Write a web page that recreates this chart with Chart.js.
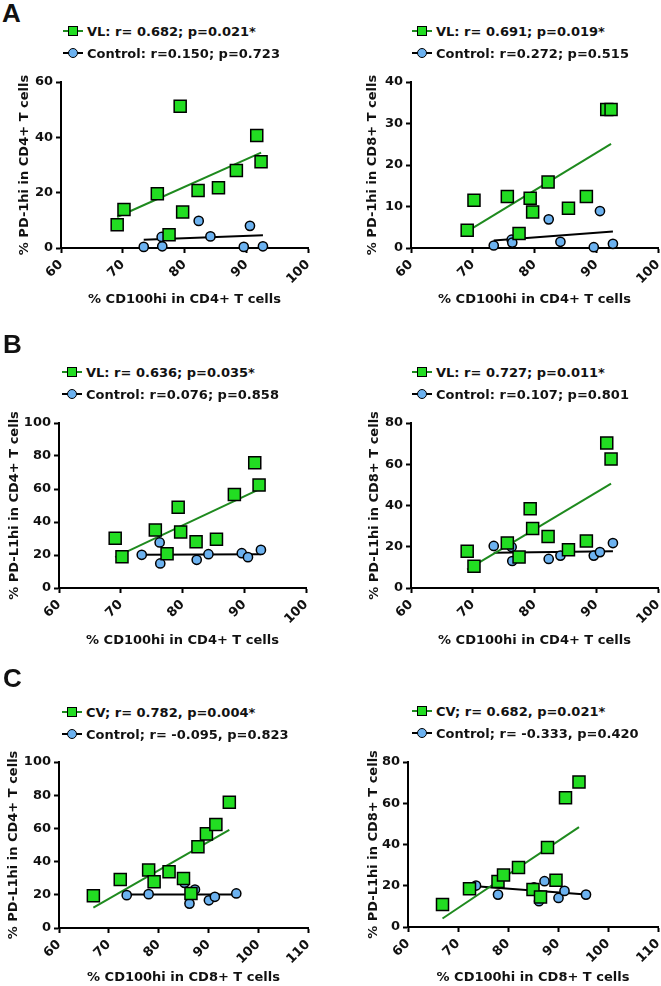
<!DOCTYPE html>
<html>
<head>
<meta charset="utf-8">
<script src="https://cdn.jsdelivr.net/npm/chart.js@4.4.0/dist/chart.umd.min.js"></script>
<style>
  body { margin: 0; background: #fff; overflow: hidden; }
  #page { position: relative; width: 661px; height: 986px; overflow: hidden; color: #111; }
  #page canvas { position: absolute; }
  .letter { position: absolute; font: bold 26px "Liberation Sans", Arial, sans-serif; line-height: 26px; }
  .row { position: absolute; height: 22px; display: flex; align-items: center;
         font: bold 13px "DejaVu Sans", sans-serif; white-space: nowrap; }
  .icon { position: relative; width: 20px; height: 14px; margin-right: 4px; flex: none; }
  .icon .ln { position: absolute; left: 0; top: 6px; width: 20px; height: 2px; }
  .icon .mk { position: absolute; left: 5px; top: 2px; width: 10px; height: 10px;
              box-sizing: border-box; border: 1.5px solid #000; }
</style>
</head>
<body>
<div id="page"></div>
<script>
// x values: % CD100hi in CD4+ T cells (panels A, B)
var cd100CD4_VL = [69.1, 70.2, 75.6, 77.5, 79.3, 79.7, 82.2, 85.5, 88.4, 91.7, 92.4];
var cd100CD4_Ctrl = [73.4, 76.3, 76.4, 82.3, 84.2, 89.6, 90.6, 92.7];
// x values: % CD100hi in CD8+ T cells (panel C)
var cd100CD8_CV = [66.9, 72.3, 78.0, 79.1, 82.1, 85.0, 86.5, 87.9, 89.6, 91.5, 94.2];
var cd100CD8_Ctrl = [73.6, 78.0, 85.2, 86.2, 87.3, 90.1, 91.3, 95.6];

// y values
var pd1CD4_VL = [8.4, 13.9, 19.6, 4.8, 51.2, 13.0, 20.8, 21.8, 28.0, 40.7, 31.2];
var pd1CD4_Ctrl = [0.4, 4.0, 0.6, 9.8, 4.2, 0.4, 8.0, 0.6];
var pd1CD8_VL = [4.3, 11.5, 12.4, 3.5, 12.0, 8.7, 15.9, 9.6, 12.4, 33.4, 33.4];
var pd1CD8_Ctrl = [0.6, 2.0, 1.3, 6.9, 1.5, 0.2, 8.9, 1.0];
var pdl1CD4_VL = [30.2, 18.9, 35.2, 20.7, 48.9, 34.0, 28.0, 29.6, 56.7, 75.9, 62.4];
var pdl1CD4_Ctrl = [20.1, 27.6, 14.9, 17.1, 20.5, 21.1, 18.7, 23.1];
var pdl1CD8_VL = [17.8, 10.5, 21.8, 15.0, 38.4, 28.8, 25.0, 18.6, 22.8, 70.3, 62.5];
var pdl1CD8_Ctrl = [20.4, 19.9, 13.1, 14.1, 15.7, 15.7, 17.4, 21.8];
var pdl1CD4_CV = [19.4, 29.2, 34.9, 27.8, 33.9, 29.8, 20.8, 49.0, 56.7, 62.3, 75.8];
var pdl1CD4_CtrlC = [19.8, 20.4, 27.2, 14.7, 23.2, 16.7, 18.8, 20.8];
var pdl1CD8_CV = [10.9, 18.5, 22.1, 25.2, 28.9, 18.2, 14.6, 38.6, 22.7, 62.7, 70.3];
var pdl1CD8_CtrlC = [20.1, 15.7, 19.2, 12.5, 22.2, 14.1, 17.5, 15.7];

// regression line ends (y at lowest x, y at highest x)
var fitA1 = [[11.2, 34.5], [3.0, 4.6]];
var fitA2 = [[4.0, 25.1], [1.8, 4.0]];
var fitB1 = [[18.7, 59.8], [20.1, 20.5]];
var fitB2 = [[8.9, 50.6], [17.1, 17.8]];
var fitC1 = [[12.3, 59.1], [20.2, 20.2]];
var fitC2 = [[4.1, 48.4], [19.8, 15.7]];

// legend texts
var legA1 = ['VL: r= 0.682; p=0.021*', 'Control: r=0.150; p=0.723'];
var legA2 = ['VL: r= 0.691; p=0.019*', 'Control: r=0.272; p=0.515'];
var legB1 = ['VL: r= 0.636; p=0.035*', 'Control: r=0.076; p=0.858'];
var legB2 = ['VL: r= 0.727; p=0.011*', 'Control: r=0.107; p=0.801'];
var legC1 = ['CV; r= 0.782, p=0.004*', 'Control; r= -0.095, p=0.823'];
var legC2 = ['CV; r= 0.682, p=0.021*', 'Control; r= -0.333, p=0.420'];

var GREEN = '#22dd22';
var BLUE = '#6cb2f0';
var FIT_GREEN = '#1e8a1e';
var TEXT = '#111';

var page = document.getElementById('page');

function pts(xs, ys) {
  return xs.map(function (x, i) { return { x: x, y: ys[i] }; });
}

function fitPts(xs, ends) {
  return [{ x: Math.min.apply(null, xs), y: ends[0] }, { x: Math.max.apply(null, xs), y: ends[1] }];
}

function addLegend(p) {
  var marks = [{ fill: GREEN, line: FIT_GREEN, round: false }, { fill: BLUE, line: '#000', round: true }];
  p.legend.forEach(function (txt, i) {
    var row = document.createElement('div');
    row.className = 'row';
    row.style.left = p.legX + 'px';
    row.style.top = (p.legY[i] - 11) + 'px';
    var icon = document.createElement('span');
    icon.className = 'icon';
    var ln = document.createElement('span');
    ln.className = 'ln';
    ln.style.background = marks[i].line;
    var mk = document.createElement('span');
    mk.className = 'mk';
    mk.style.background = marks[i].fill;
    if (marks[i].round) mk.style.borderRadius = '50%';
    icon.appendChild(ln);
    icon.appendChild(mk);
    row.appendChild(icon);
    row.appendChild(document.createTextNode(txt));
    page.appendChild(row);
  });
}

function drawPanel(p) {
  var top = p.plot.t - 25;
  var bottom = Math.min(p.xTitleY + 10, 986);
  var W = p.w, H = bottom - top;
  var lh = 13 * 1.2;
  // paddings and axis sizes so the plot box lands where it is in the figure
  var pl = p.yTitleX - p.x - lh / 2;
  var yw = p.plot.l - p.x - pl;
  var pr = p.x + W - p.plot.r;
  var pt = p.plot.t - top;
  var pb = Math.max(bottom - (p.xTitleY + lh / 2), 0);
  var xh = (H - pb) - (p.plot.b - top);

  var canvas = document.createElement('canvas');
  canvas.width = W;
  canvas.height = H;
  canvas.style.left = p.x + 'px';
  canvas.style.top = top + 'px';
  page.appendChild(canvas);

  var tickFont = { family: 'DejaVu Sans', size: 13, weight: 'bold' };
  var titleFont = { family: 'DejaVu Sans', size: 13, weight: 'bold', lineHeight: 1.2 };

  new Chart(canvas.getContext('2d'), {
    type: 'scatter',
    data: {
      datasets: [{
        label: p.legend[0],
        data: pts(p.x1, p.y1),
        pointStyle: 'rect',
        pointRadius: 8.5,
        backgroundColor: GREEN,
        borderColor: '#000',
        borderWidth: 1.5,
        clip: false
      }, {
        label: p.legend[1],
        data: pts(p.x2, p.y2),
        pointStyle: 'circle',
        pointRadius: 4.6,
        backgroundColor: BLUE,
        borderColor: '#000',
        borderWidth: 1.5,
        clip: false
      }, {
        label: 'fit1',
        data: fitPts(p.x1, p.fit[0]),
        showLine: true,
        pointRadius: 0,
        borderColor: FIT_GREEN,
        borderWidth: 2,
        clip: false
      }, {
        label: 'fit2',
        data: fitPts(p.x2, p.fit[1]),
        showLine: true,
        pointRadius: 0,
        borderColor: '#000',
        borderWidth: 2,
        clip: false
      }]
    },
    options: {
      responsive: false,
      animation: false,
      layout: { padding: { left: pl, right: pr, top: pt, bottom: pb } },
      plugins: { legend: { display: false }, tooltip: { enabled: false } },
      scales: {
        x: {
          type: 'linear',
          min: p.xRange[0],
          max: p.xRange[1],
          ticks: { stepSize: 10, minRotation: 45, maxRotation: 45, autoSkip: false, font: tickFont, color: TEXT, padding: 4 },
          grid: { drawOnChartArea: false, tickLength: 5, tickWidth: 2, tickColor: '#000' },
          border: { color: '#000', width: 2 },
          title: { display: true, text: p.xTitle, font: titleFont, color: TEXT, padding: 0 },
          afterFit: function (s) { s.height = xh; }
        },
        y: {
          min: 0,
          max: p.yMax,
          ticks: { stepSize: p.yStep, font: tickFont, color: TEXT, padding: 3 },
          grid: { drawOnChartArea: false, tickLength: 5, tickWidth: 2, tickColor: '#000' },
          border: { color: '#000', width: 2 },
          title: { display: true, text: p.yTitle, font: titleFont, color: TEXT, padding: 0 },
          afterFit: function (s) { s.width = yw; }
        }
      }
    }
  });

  addLegend(p);
}

var xTitleCD4 = '% CD100hi in CD4+ T cells';
var xTitleCD8 = '% CD100hi in CD8+ T cells';

// right-column canvases run past the page edge (clipped) so label overhang does not shrink the plot
var panels = [
  { x: 0, w: 330, plot: { l: 61, r: 308, t: 82, b: 248 }, yTitleX: 25, xTitleY: 300, legX: 63, legY: [31, 53],
    x1: cd100CD4_VL, y1: pd1CD4_VL, x2: cd100CD4_Ctrl, y2: pd1CD4_Ctrl, fit: fitA1, legend: legA1,
    xRange: [60, 100], yMax: 60, yStep: 20, xTitle: xTitleCD4, yTitle: '% PD-1hi in CD4+ T cells' },
  { x: 330, w: 355, plot: { l: 411, r: 658, t: 82, b: 248 }, yTitleX: 373, xTitleY: 300, legX: 412, legY: [31, 53],
    x1: cd100CD4_VL, y1: pd1CD8_VL, x2: cd100CD4_Ctrl, y2: pd1CD8_Ctrl, fit: fitA2, legend: legA2,
    xRange: [60, 100], yMax: 40, yStep: 10, xTitle: xTitleCD4, yTitle: '% PD-1hi in CD8+ T cells' },
  { x: 0, w: 330, plot: { l: 59, r: 306, t: 423, b: 588 }, yTitleX: 15, xTitleY: 641, legX: 62, legY: [372, 394],
    x1: cd100CD4_VL, y1: pdl1CD4_VL, x2: cd100CD4_Ctrl, y2: pdl1CD4_Ctrl, fit: fitB1, legend: legB1,
    xRange: [60, 100], yMax: 100, yStep: 20, xTitle: xTitleCD4, yTitle: '% PD-L1hi in CD4+ T cells' },
  { x: 330, w: 355, plot: { l: 411, r: 658, t: 423, b: 588 }, yTitleX: 375, xTitleY: 641, legX: 412, legY: [372, 394],
    x1: cd100CD4_VL, y1: pdl1CD8_VL, x2: cd100CD4_Ctrl, y2: pdl1CD8_Ctrl, fit: fitB2, legend: legB2,
    xRange: [60, 100], yMax: 80, yStep: 20, xTitle: xTitleCD4, yTitle: '% PD-L1hi in CD8+ T cells' },
  { x: 0, w: 330, plot: { l: 59, r: 308, t: 762, b: 928 }, yTitleX: 14, xTitleY: 978, legX: 62, legY: [712, 734],
    x1: cd100CD8_CV, y1: pdl1CD4_CV, x2: cd100CD8_Ctrl, y2: pdl1CD4_CtrlC, fit: fitC1, legend: legC1,
    xRange: [60, 110], yMax: 100, yStep: 20, xTitle: xTitleCD8, yTitle: '% PD-L1hi in CD4+ T cells' },
  { x: 330, w: 355, plot: { l: 408, r: 658, t: 762, b: 927 }, yTitleX: 374, xTitleY: 978, legX: 412, legY: [711, 733],
    x1: cd100CD8_CV, y1: pdl1CD8_CV, x2: cd100CD8_Ctrl, y2: pdl1CD8_CtrlC, fit: fitC2, legend: legC2,
    xRange: [60, 110], yMax: 80, yStep: 20, xTitle: xTitleCD8, yTitle: '% PD-L1hi in CD8+ T cells' }
];

panels.forEach(drawPanel);

[['A', 2, 0], ['B', 3, 331], ['C', 3, 665]].forEach(function (l) {
  var d = document.createElement('div');
  d.className = 'letter';
  d.textContent = l[0];
  d.style.left = l[1] + 'px';
  d.style.top = l[2] + 'px';
  page.appendChild(d);
});
</script>
</body>
</html>
